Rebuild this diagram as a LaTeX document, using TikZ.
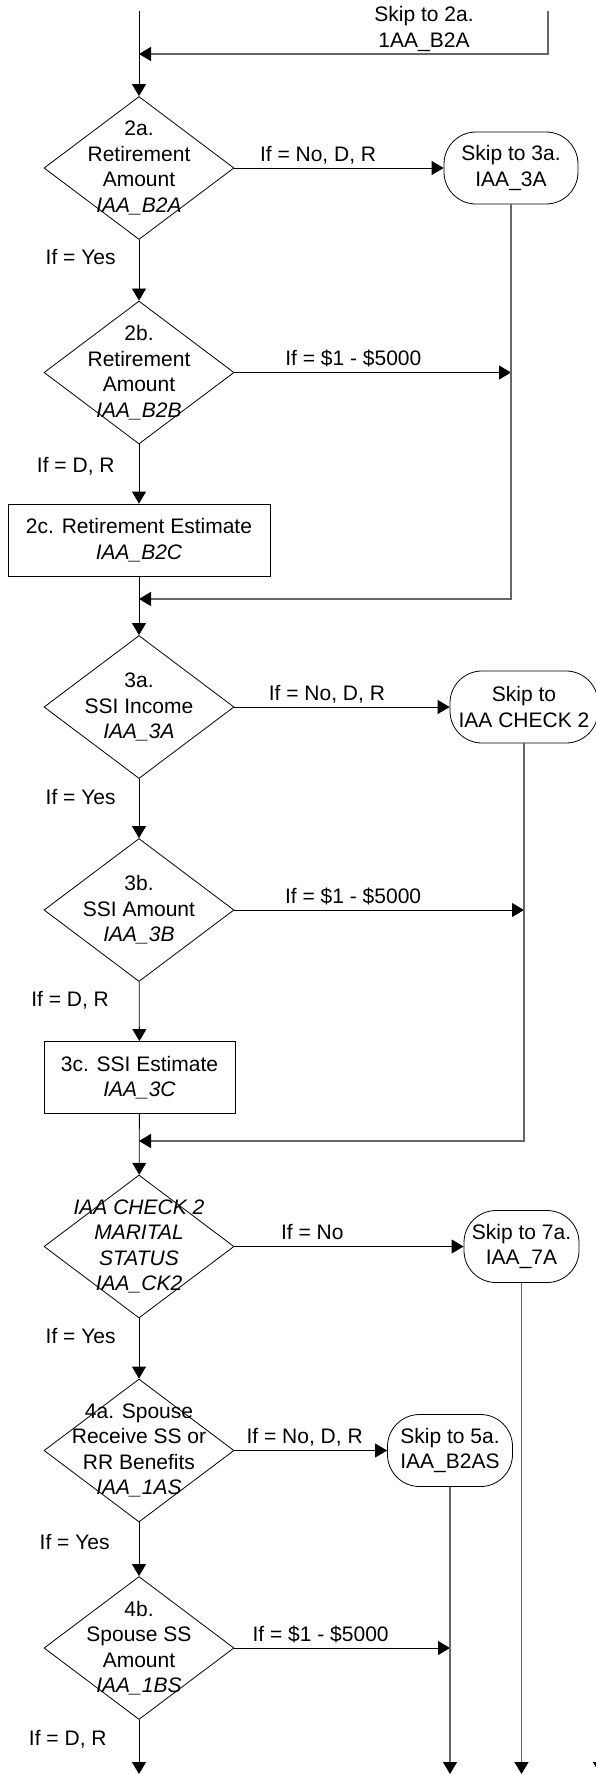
\documentclass[tikz,border=0pt]{standalone}
\usepackage{fontspec}
\setmainfont{Liberation Sans}
\usetikzlibrary{shapes.geometric,arrows.meta}

\begin{document}
\begin{tikzpicture}[x=1pt, y=1pt, line width=0.8pt,
  font=\fontsize{21}{25.5}\selectfont,
  dia/.style={draw, diamond, minimum width=190pt, minimum height=143pt, inner sep=0pt},
  txt/.style={align=center, inner sep=0pt},
  box/.style={draw, rectangle, minimum height=72pt, align=center, inner sep=0pt},
  skip/.style={draw, rectangle, rounded corners=32pt, minimum height=72pt, align=center, inner sep=0pt},
  go/.style={-{Triangle[length=12pt, width=14pt]}},
  back/.style={draw=black!60, line width=1.3pt, -{Triangle[length=12pt, width=14pt, color=black]}},
  lbl/.style={inner sep=0pt, text height=15pt, text depth=4pt}]

  \useasboundingbox (0,0) rectangle (595,-1775);

  % shapes
  \node[txt] (t2a) at (424,-29) {Skip to 2a.\\1AA\_B2A};
  \node[dia] (d2a) at (139,-168) {};
  \node[txt] (d2a-t) at (d2a) {2a.\\Retirement\\Amount\\\textit{IAA\_B2A}};
  \node[skip, minimum width=134pt] (t3a) at (511,-168) {Skip to 3a.\\IAA\_3A};
  \node[dia] (d2b) at (139,-372.5) {};
  \node[txt] (d2b-t) at (d2b) {2b.\\Retirement\\Amount\\\textit{IAA\_B2B}};
  \node[box, minimum width=262pt] (b2c) at (139,-540) {2c. Retirement Estimate\\\textit{IAA\_B2C}};

  \node[dia] (d3a) at (139,-707) {};
  \node[txt] (d3a-t) at (d3a) {3a.\\SSI Income\\\textit{IAA\_3A}};
  \node[skip, minimum width=148pt] (tck2) at (524,-707) {Skip to\\IAA CHECK 2};
  \node[dia] (d3b) at (139,-910) {};
  \node[txt] (d3b-t) at (d3b) {3b.\\SSI Amount\\\textit{IAA\_3B}};
  \node[box, minimum width=191pt] (b3c) at (139.5,-1077.5) {3c. SSI Estimate\\\textit{IAA\_3C}};

  \node[dia] (dck2) at (139,-1246.5) {};
  \node[txt, font=\fontsize{21}{25.5}\selectfont\itshape] (dck2-t) at (dck2)
    {IAA CHECK 2\\MARITAL\\STATUS\\IAA\_CK2};
  \node[skip, minimum width=115pt] (t7a) at (521.5,-1246.5) {Skip to 7a.\\IAA\_7A};
  \node[dia] (d4a) at (139,-1450.5) {};
  \node[txt] (d4a-t) at (d4a) {4a. Spouse\\Receive SS or\\RR Benefits\\\textit{IAA\_1AS}};
  \node[skip, minimum width=125pt] (t5a) at (450,-1450.5) {Skip to 5a.\\IAA\_B2AS};
  \node[dia] (d4b) at (139,-1648) {};
  \node[txt] (d4b-t) at (d4b) {4b.\\Spouse SS\\Amount\\\textit{IAA\_1BS}};

  % free ends
  \coordinate (top) at (139,-11);
  \coordinate (s2a) at (548,-11);
  \coordinate (m1) at (139,-54);
  \coordinate (m2) at (139,-599);
  \coordinate (m3) at (139,-1141);
  \coordinate (e1) at (139,-1774);
  \coordinate (e4a) at (600,-1600);
  \coordinate (e4) at (600,-1774);

  % connectors
  \draw[back] (s2a) -- (s2a |- m1) -- (m1);
  \draw[go] (top) -- (d2a);
  \draw[go] (d2a) -- node[lbl, above=2.5pt, pos=0.4] {If = No, D, R} (t3a);
  \draw[go] (d2a) -- node[lbl, left=23pt, pos=0.31] {If = Yes} (d2b);
  \draw[go] (d2b) -- node[lbl, above=2.5pt, pos=0.43] {If = \$1 - \$5000} (d2b -| t3a);
  \draw[go] (d2b) -- node[lbl, left=24pt, pos=0.38] {If = D, R} (b2c);
  \draw[back] (t3a) -- (t3a |- m2) -- (m2);
  \draw[go] (b2c) -- (d3a);

  \draw[go] (d3a) -- node[lbl, above=2.5pt, pos=0.43] {If = No, D, R} (tck2);
  \draw[go] (d3a) -- node[lbl, left=23pt, pos=0.34] {If = Yes} (d3b);
  \draw[go] (d3b) -- node[lbl, above=2.5pt, pos=0.41] {If = \$1 - \$5000} (d3b -| tck2);
  \draw[go] (d3b) -- node[lbl, left=30pt, pos=0.32] {If = D, R} (b3c);
  \draw[back] (tck2) -- (tck2 |- m3) -- (m3);
  \draw[go] (b3c) -- (dck2);

  \draw[go] (dck2) -- node[lbl, above=2.5pt, pos=0.34] {If = No} (t7a);
  \draw[go] (dck2) -- node[lbl, left=23pt, pos=0.33] {If = Yes} (d4a);
  \draw[go] (d4a) -- node[lbl, above=2.5pt, pos=0.46] {If = No, D, R} (t5a);
  \draw[go] (d4a) -- node[lbl, left=29pt, pos=0.4] {If = Yes} (d4b);
  \draw[go] (d4b) -- node[lbl, above=2.5pt, pos=0.4] {If = \$1 - \$5000} (d4b -| t5a);
  \draw[go] (d4b) -- node[lbl, left=32pt, pos=0.38] {If = D, R} (e1);
  \draw[back] (t5a) -- (t5a |- e1);
  \draw[back] (t7a) -- (t7a |- e1);
  \draw[back] (e4a) -- (e4);
\end{tikzpicture}
\end{document}
